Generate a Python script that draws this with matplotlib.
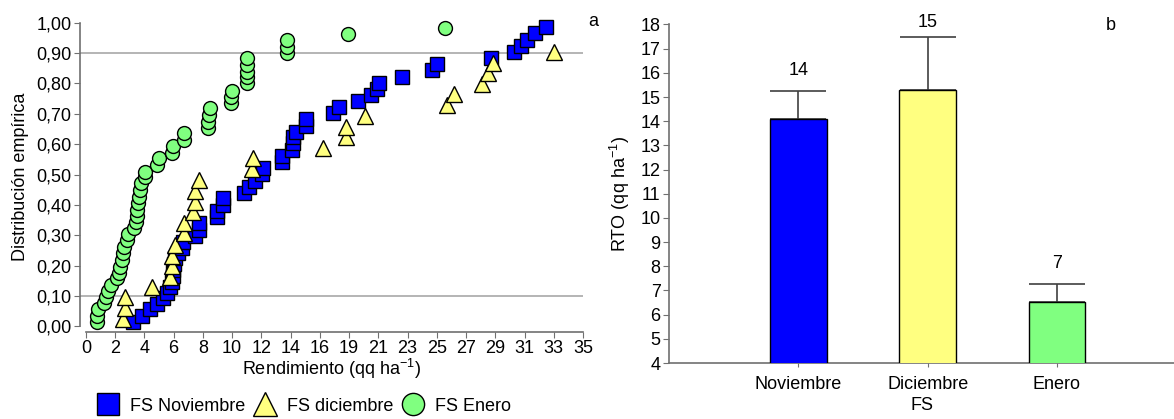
import matplotlib
matplotlib.use("Agg")
import matplotlib.pyplot as plt
from matplotlib.lines import Line2D
from matplotlib.ticker import FuncFormatter
import numpy as np

plt.rcParams['font.family'] = ['Liberation Sans', 'DejaVu Sans']
plt.rcParams['mathtext.fontset'] = 'custom'
plt.rcParams['mathtext.rm'] = 'Liberation Sans'
plt.rcParams['mathtext.it'] = 'Liberation Sans'

# panel a: empirical distribution of yield, per sowing date
nov_x = [3.33, 3.92, 4.51, 5.02, 5.45, 5.73, 5.92, 6.03, 6.10, 6.15, 6.22, 6.27, 6.45,
         6.74, 6.85, 7.68, 7.98, 7.98, 9.25, 9.25, 9.67, 9.67, 11.15, 11.48, 11.90,
         12.37, 12.49, 13.78, 13.78, 14.49, 14.60, 14.60, 14.79, 15.49, 15.49, 17.42,
         17.84, 19.13, 20.05, 20.47, 20.65, 22.23, 24.35, 24.74, 28.52, 30.16, 30.61,
         31.03, 31.62, 32.39]
nov_y = [0.015, 0.034, 0.056, 0.074, 0.092, 0.109, 0.129, 0.147, 0.166, 0.186, 0.205,
         0.224, 0.240, 0.258, 0.278, 0.298, 0.317, 0.339, 0.361, 0.380, 0.400, 0.422,
         0.440, 0.460, 0.480, 0.502, 0.520, 0.542, 0.561, 0.581, 0.603, 0.622, 0.641,
         0.661, 0.682, 0.702, 0.721, 0.742, 0.762, 0.780, 0.802, 0.822, 0.844, 0.863,
         0.883, 0.904, 0.923, 0.943, 0.965, 0.985]

dic_x = [2.58, 2.75, 2.75, 4.66, 5.92, 6.06, 6.06, 6.27, 6.90, 6.90, 7.56, 7.65, 7.70,
         7.95, 11.67, 11.74, 16.71, 18.31, 18.31, 19.65, 25.40, 25.92, 27.87, 28.33,
         28.69, 32.98]
dic_y = [0.025, 0.060, 0.096, 0.131, 0.164, 0.200, 0.232, 0.268, 0.307, 0.340, 0.376,
         0.411, 0.445, 0.482, 0.517, 0.553, 0.586, 0.623, 0.658, 0.693, 0.729, 0.764,
         0.798, 0.833, 0.868, 0.904]

ene_x = [0.75, 0.80, 0.87, 1.27, 1.41, 1.57, 1.75, 2.20, 2.35, 2.39, 2.51, 2.58, 2.68,
         2.87, 2.98, 3.38, 3.52, 3.57, 3.61, 3.68, 3.75, 3.80, 3.87, 4.15, 4.15, 4.98,
         5.16, 6.04, 6.15, 6.90, 6.90, 8.57, 8.61, 8.68, 8.73, 10.19, 10.23, 10.28,
         11.32, 11.32, 11.36, 11.36, 11.36, 14.18, 14.18, 14.18, 18.47, 25.26]
ene_y = [0.015, 0.034, 0.056, 0.076, 0.096, 0.115, 0.136, 0.158, 0.175, 0.197, 0.219,
         0.241, 0.262, 0.285, 0.304, 0.323, 0.345, 0.363, 0.383, 0.405, 0.427, 0.449,
         0.471, 0.491, 0.509, 0.531, 0.553, 0.572, 0.594, 0.614, 0.636, 0.654, 0.674,
         0.696, 0.718, 0.737, 0.756, 0.776, 0.800, 0.820, 0.839, 0.861, 0.883, 0.901,
         0.921, 0.943, 0.962, 0.983]

# panel b: mean yield and error
fechas = ['Noviembre', 'Diciembre', 'Enero']
rto = [14.08, 15.28, 6.51]
rto_err = [1.17, 2.20, 0.76]

azul = '#0000FF'
amarillo = '#FFFF80'
verde = '#80FF80'
gris = '#707070'
fs = 13

fig = plt.figure(figsize=(11.74, 4.19), dpi=100)
W, H = 1174.0, 419.0

# ---- panel a
ax1 = fig.add_axes([80 / W, (H - 332) / H, (583 - 80) / W, (332 - 22.6) / H])
ax1.axhline(0.1, color='#a8a8a8', lw=1.2, zorder=1)
ax1.axhline(0.9, color='#a8a8a8', lw=1.2, zorder=1)
ax1.plot(nov_x, nov_y, 's', ms=10, mfc=azul, mec='black', mew=1, ls='none', clip_on=False, zorder=3)
ax1.plot(dic_x, dic_y, '^', ms=11, mfc=amarillo, mec='black', mew=1, ls='none', clip_on=False, zorder=4)
ax1.plot(ene_x, ene_y, 'o', ms=10, mfc=verde, mec='black', mew=1, ls='none', clip_on=False, zorder=5)

ax1.set_xlim(-0.42, 35)
ax1.set_ylim(-0.0184, 1.0)
ax1.set_xticks(np.linspace(0, 35, 18))
ax1.xaxis.set_major_formatter(FuncFormatter(lambda v, p: f'{v:.0f}'))
ax1.set_yticks(np.arange(0, 1.01, 0.1))
ax1.yaxis.set_major_formatter(FuncFormatter(lambda v, p: f'{v:.2f}'.replace('.', ',')))
for s in ['top', 'right']:
    ax1.spines[s].set_visible(False)
ax1.spines['left'].set_bounds(0, 1)
ax1.spines['bottom'].set_bounds(0, 35)
for s in ['left', 'bottom']:
    ax1.spines[s].set_color(gris)
    ax1.spines[s].set_linewidth(1.2)
ax1.tick_params(direction='out', length=4, color=gris, labelsize=fs, pad=2)
ax1.set_xlabel('Rendimiento (qq ha$^{-1}$)', fontsize=fs, labelpad=0)
ax1.set_ylabel('Distribución empírica', fontsize=fs, labelpad=5)
fig.text(593 / W, 1 - 22 / H, 'a', fontsize=fs, ha='center', va='center')

handles = [
    Line2D([], [], marker='s', ms=16, mfc=azul, mec='black', ls='none'),
    Line2D([], [], marker='^', ms=17, mfc=amarillo, mec='black', ls='none'),
    Line2D([], [], marker='o', ms=16, mfc=verde, mec='black', ls='none'),
]
fig.legend(handles, ['FS Noviembre', 'FS diciembre', 'FS Enero'], ncol=3,
           loc='center left', bbox_to_anchor=(93.6 / W, 1 - 406 / H), frameon=False,
           fontsize=fs, handlelength=1.6, handletextpad=0.42, columnspacing=0.3,
           borderpad=0, borderaxespad=0)

# ---- panel b
ax2 = fig.add_axes([669 / W, (H - 363) / H, (W - 669) / W, (363 - 24.5) / H])
pos = np.arange(1, len(fechas) + 1)
ax2.bar(pos, rto, width=0.437, color=[azul, amarillo, verde], edgecolor='black', lw=1, zorder=3)
ax2.errorbar(pos, rto, yerr=[np.zeros(len(rto)), rto_err], fmt='none', ecolor='#404040',
             elinewidth=1.2, capsize=20.3, capthick=1.2, zorder=2)
for xp, m, e in zip(pos, rto, rto_err):
    ax2.text(xp, min(m + e + 0.83, 18.1), f'{m:.0f}', ha='center', va='center', fontsize=fs)
ax2.set_xlim(0, 3.905)
ax2.set_ylim(4, 18)
ax2.set_yticks(np.arange(4, 19, 1))
ax2.set_xticks(pos)
ax2.set_xticklabels(fechas)
for s in ['top', 'right']:
    ax2.spines[s].set_visible(False)
for s in ['left', 'bottom']:
    ax2.spines[s].set_color(gris)
    ax2.spines[s].set_linewidth(1.2)
ax2.tick_params(axis='y', direction='out', length=4, color=gris, labelsize=fs, pad=2)
ax2.tick_params(axis='x', direction='out', length=3, color=gris, labelsize=fs, pad=6)
ax2.set_xlabel('FS', fontsize=fs, labelpad=3)
ax2.set_ylabel('RTO (qq ha$^{-1}$)', fontsize=fs, labelpad=6)
fig.text(1111 / W, 1 - 25 / H, 'b', fontsize=fs, ha='center', va='center')

fig.savefig('out.png', dpi=100)
